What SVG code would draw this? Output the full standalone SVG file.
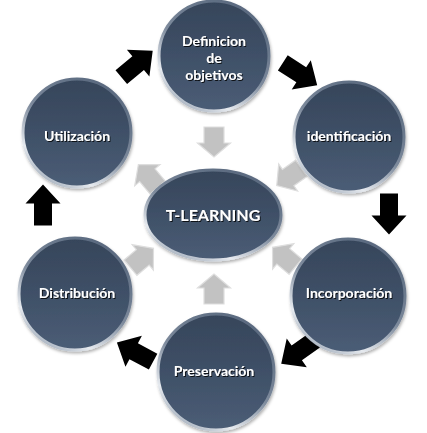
<svg xmlns="http://www.w3.org/2000/svg" width="427" height="433" viewBox="0 0 427 433">
<defs>
<linearGradient id="fillG" x1="0" y1="0" x2="0" y2="1">
<stop offset="0" stop-color="#36455a"/>
<stop offset="0.45" stop-color="#3e4f66"/>
<stop offset="1" stop-color="#4b5d76"/>
</linearGradient>
<linearGradient id="rimG" x1="0.8" y1="0" x2="0.2" y2="1">
<stop offset="0" stop-color="#56667c"/>
<stop offset="0.5" stop-color="#7d8a9c"/>
<stop offset="0.8" stop-color="#e6eaef"/>
<stop offset="1" stop-color="#9aa6b5"/>
</linearGradient>
<filter id="sh" x="-20%" y="-30%" width="140%" height="160%">
<feDropShadow dx="1" dy="1" stdDeviation="0.3" flood-color="#000" flood-opacity="0.8"/>
</filter>
<filter id="nsh" x="-20%" y="-20%" width="140%" height="140%">
<feDropShadow dx="1" dy="2" stdDeviation="1.5" flood-color="#000" flood-opacity="0.3"/>
</filter>
<path id="bArrow" d="M-20.5,-9 L1.5,-9 L1.5,-17.5 L20.5,0 L1.5,17.5 L1.5,9 L-20.5,9 Z"/>
<path id="gArrow" d="M-15,-10 L1,-10 L1,-16.5 L15,0 L1,16.5 L1,10 L-15,10 Z"/>
</defs>
<style>
.node{fill:url(#fillG);stroke:url(#rimG);stroke-width:3;filter:url(#nsh)}
.lbl{font-family:Lato,"Open Sans",sans-serif;font-weight:bold;font-size:14px;fill:#ffffff;text-anchor:middle;filter:url(#sh)}
.big{font-size:16px}
.black{fill:#000000}
.gray{fill:#c2c2c2;stroke:#dedede;stroke-width:1.2}
</style>
<rect width="427" height="433" fill="#ffffff"/>
<g id="connectors">
<use href="#bArrow" class="black" transform="translate(137,64) rotate(-40)"/>
<use href="#bArrow" class="black" transform="translate(300,74) rotate(33)"/>
<use href="#bArrow" class="black" transform="translate(389,214) rotate(90)"/>
<use href="#bArrow" class="black" transform="translate(298,352) rotate(145)"/>
<use href="#bArrow" class="black" transform="translate(135,352) rotate(-152)"/>
<use href="#bArrow" class="black" transform="translate(43,205) rotate(-90)"/>
<use href="#gArrow" class="gray" transform="translate(214,142) rotate(90)"/>
<use href="#gArrow" class="gray" transform="translate(289,177) rotate(145)"/>
<use href="#gArrow" class="gray" transform="translate(284,257) rotate(-140)"/>
<use href="#gArrow" class="gray" transform="translate(214,289) rotate(-90)"/>
<use href="#gArrow" class="gray" transform="translate(142,258) rotate(-40)"/>
<use href="#gArrow" class="gray" transform="translate(148,176) rotate(-130)"/>
</g>
<g id="node-definicion">
<circle class="node" cx="214" cy="56" r="55"/>
<text class="lbl" x="214" y="46">Definicion</text>
<text class="lbl" x="214" y="63">de</text>
<text class="lbl" x="214" y="80">objetivos</text>
</g>
<g id="node-identificacion">
<circle class="node" cx="349" cy="137" r="55"/>
<text class="lbl" x="349" y="141">identificación</text>
</g>
<g id="node-incorporacion">
<circle class="node" cx="348" cy="296" r="57"/>
<text class="lbl" x="349" y="298">Incorporación</text>
</g>
<g id="node-preservacion">
<circle class="node" cx="216" cy="372" r="58"/>
<text class="lbl" x="214" y="376">Preservación</text>
</g>
<g id="node-distribucion">
<circle class="node" cx="75" cy="294" r="56"/>
<text class="lbl" x="77" y="298">Distribución</text>
</g>
<g id="node-utilizacion">
<circle class="node" cx="77" cy="133" r="54"/>
<text class="lbl" x="77" y="141">Utilización</text>
</g>
<g id="node-tlearning">
<ellipse class="node" cx="213" cy="215" rx="68" ry="45"/>
<text class="lbl big" x="213" y="221">T-LEARNING</text>
</g>
</svg>
